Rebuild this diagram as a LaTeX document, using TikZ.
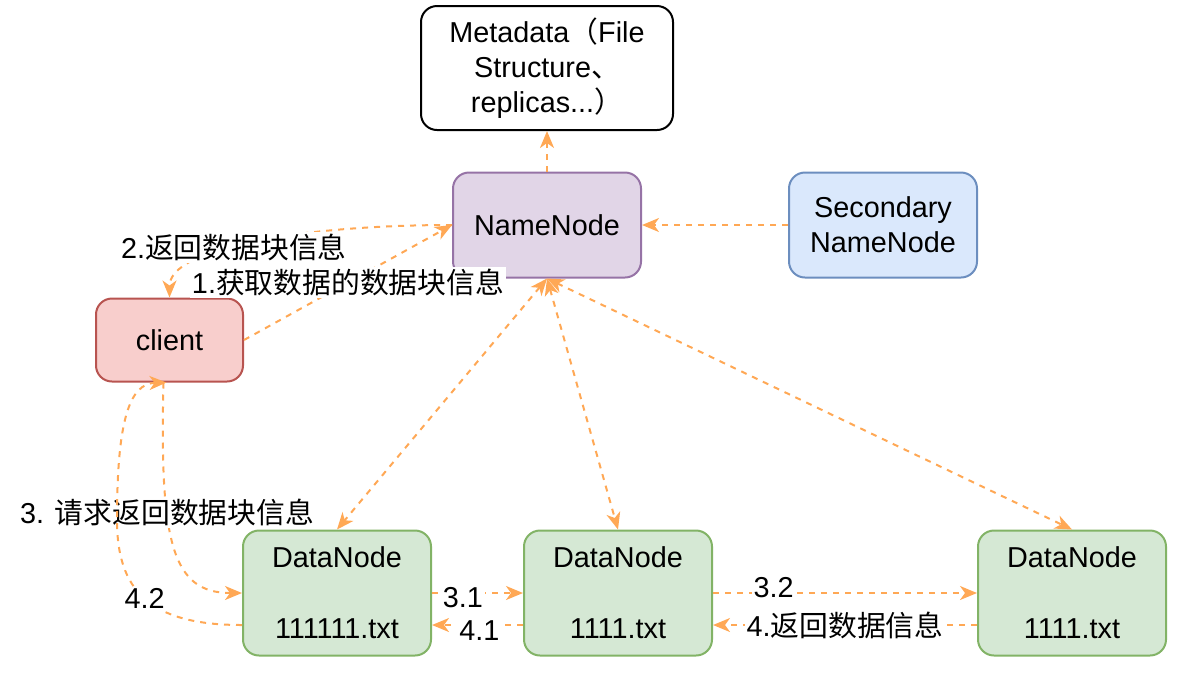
\documentclass[tikz,border=0pt]{standalone}
\usepackage{fontspec}
\setmainfont{Liberation Sans}
\newfontfamily\cjk{Noto Sans CJK SC}
\usetikzlibrary{arrows.meta,calc}
\definecolor{flowc}{RGB}{255,168,85}
\definecolor{nnfill}{HTML}{E1D5E7}\definecolor{nnline}{HTML}{9673A6}
\definecolor{snfill}{HTML}{DAE8FC}\definecolor{snline}{HTML}{6C8EBF}
\definecolor{clfill}{HTML}{F8CECC}\definecolor{clline}{HTML}{B85450}
\definecolor{dnfill}{HTML}{D5E8D4}\definecolor{dnline}{HTML}{82B366}
\tikzset{
  box/.style={draw, rounded corners=8pt, line width=1pt, align=center, inner sep=0pt},
  namebox/.style={box, fill=nnfill, draw=nnline, minimum width=94pt, minimum height=52.5pt},
  databox/.style={box, fill=dnfill, draw=dnline, minimum width=94pt, minimum height=62.5pt},
  flow/.style={draw=flowc, line width=1pt, dash pattern=on 3pt off 3pt},
  lbl/.style={fill=white, inner sep=1pt},
}
\begin{document}
\begin{tikzpicture}[x=0.5pt, y=-0.5pt, font=\fontsize{14.4}{17.5}\selectfont,
  >={Stealth[length=8.5pt,width=7pt,inset=2.5pt]}]
\useasboundingbox (0,0) rectangle (1182,676);

\node[box, fill=white, minimum width=126pt, minimum height=62pt] (meta) at (547,68)
  {Metadata{\cjk （}File\\Structure{\cjk 、}\\replicas...{\cjk ）}};
\node[namebox] (nn) at (547,225) {NameNode};
\node[namebox, fill=snfill, draw=snline] (snn) at (883,225) {Secondary\\NameNode};
\node[box, fill=clfill, draw=clline, minimum width=73.5pt, minimum height=41.5pt] (client) at (169.5,340) {client};
\node[databox] (dn1) at (337,593) {DataNode\\[18pt]111111.txt};
\node[databox] (dn2) at (618,593) {DataNode\\[18pt]1111.txt};
\node[databox] (dn3) at (1072,593) {DataNode\\[18pt]1111.txt};

\draw[flow,->] (nn.north) -- (meta.south);
\draw[flow,->] (snn.west) -- (nn.east);
\draw[flow,->] (client.east) -- node[lbl] {1.{\cjk 获取数据的数据块信息}} (nn.west);
\draw[flow,->] (nn.west) .. controls +(-150,0) and +(0,-50) .. node[lbl,pos=.57] {2.{\cjk 返回数据块信息}} (client.north);

\draw[flow,<->] (nn.south) -- (dn1.north);
\draw[flow,<->] (nn.south) -- (dn2.north);
\draw[flow,<->] (nn.south) -- (dn3.north);

\draw[flow,->] ($(client.south)+(-6,0)$) .. controls +(-4,160) and +(-70,0) .. node[lbl,pos=.35] {3. {\cjk 请求返回数据块信息}} (dn1.west);
\draw[flow,->] ($(dn1.west)+(0,32)$) .. controls +(-93,0) and +(0,70) .. ++(-125,-105) node[lbl,pos=.5] {4.2}
  .. controls +(0,-100) and +(-37,1) .. ($(client.south)+(-3,0)$);

\draw[flow,->] (dn1.east) -- node[lbl,pos=.34,yshift=-2.5pt] {3.1} (dn2.west);
\draw[flow,->] ($(dn2.west)+(0,32)$) -- node[lbl,pos=.48,yshift=-3pt] {4.1} ($(dn1.east)+(0,32)$);
\draw[flow,->] (dn2.east) -- node[lbl,pos=.23,yshift=2.5pt] {3.2} (dn3.west);
\draw[flow,->] ($(dn3.west)+(0,32)$) -- node[lbl,pos=.5] {4.{\cjk 返回数据信息}} ($(dn2.east)+(0,32)$);
\end{tikzpicture}
\end{document}
